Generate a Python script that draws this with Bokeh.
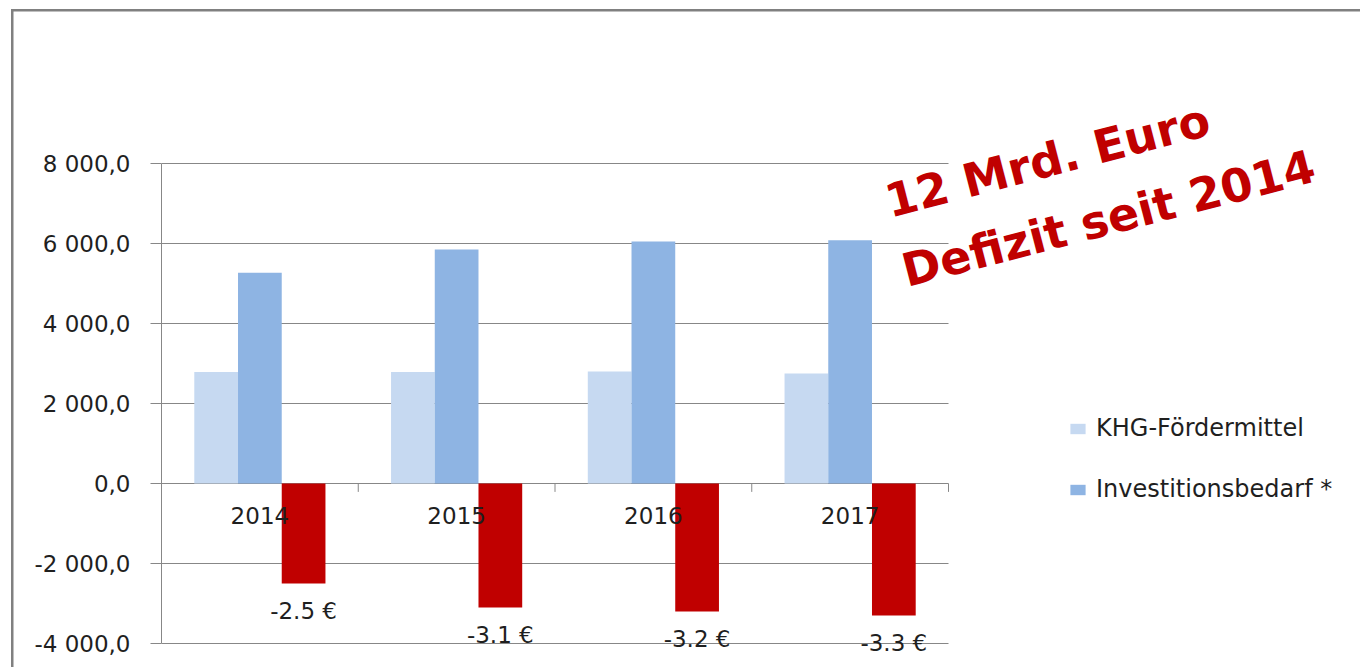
from bokeh.plotting import figure
from bokeh.models import (ColumnDataSource, Range1d, FixedTicker, CustomJSTickFormatter,
                          Legend, LegendItem, Label)
from bokeh.core.properties import value
from bokeh.embed import file_html
from bokeh.resources import INLINE

# Krankenhausinvestitionen (Mio. Euro)
jahre = ["2014", "2015", "2016", "2017"]
khg_foerdermittel = [2790, 2790, 2800, 2750]
investitionsbedarf = [5270, 5850, 6050, 6080]
# Jährliche Investitionslücke (Mrd. Euro)
defizit_mrd = [-2.5, -3.1, -3.2, -3.3]
y_ticks = [-4000, -2000, 0, 2000, 4000, 6000, 8000]
hinweis = ["12 Mrd. Euro", "Defizit seit 2014"]

FONT = "DejaVu Sans"
TEXT = "#1f1f1f"
GRID = "#878787"

n = len(jahre)
w = 1 / 4.5                      # bar width, gap width 150 %
pos = [i + 0.5 for i in range(n)]

src = ColumnDataSource(dict(
    jahr=jahre,
    x_khg=[x - w for x in pos],
    x_bed=pos,
    x_def=[x + w for x in pos],
    x_grenze=[x + 0.5 for x in pos],
    khg=khg_foerdermittel,
    bedarf=investitionsbedarf,
    defizit=[v * 1000 for v in defizit_mrd],
    label=[f"{v:.1f} €" for v in defizit_mrd],
    x=pos,
))

# the data frame spans the right-hand side too, so the legend and the note fit in it
W, H = 1360, 667
left, plot_right, plot_top, plot_bottom = 161, 948, 163, 643
px_per_unit_y = (plot_bottom - plot_top) / (y_ticks[-1] - y_ticks[0])
px_per_cat = (plot_right - left) / n
y_range = Range1d(y_ticks[0] - (H - plot_bottom) / px_per_unit_y,
                  y_ticks[-1] + plot_top / px_per_unit_y)
x_range = Range1d(0, (W - left) / px_per_cat)

p = figure(x_range=x_range, y_range=y_range, width=W, height=H,
           output_backend="svg", toolbar_location=None, x_axis_location=None,
           min_border_left=left, min_border_right=0, min_border_top=0, min_border_bottom=0)
p.outline_line_color = None
p.background_fill_color = None
p.border_fill_color = None
# grey chart-area border along the left and top edge
p.styles = {
    "background-color": "white",
    "background-image": "linear-gradient(#808080, #808080), linear-gradient(#808080, #808080)",
    "background-size": "2.5px 100%, 100% 2.5px",
    "background-position": "11px 9px, 11px 9px",
    "background-repeat": "no-repeat",
}

# y axis with German number format
yax = p.yaxis[0]
yax.ticker = FixedTicker(ticks=y_ticks)
yax.bounds = (y_ticks[0], y_ticks[-1])
yax.formatter = CustomJSTickFormatter(code="""
    const s = Math.abs(tick).toFixed(0).replace(/\\B(?=(\\d{3})+(?!\\d))/g, " ");
    return (tick < 0 ? "-" : "") + s + ",0";
""")
yax.axis_line_color = GRID
yax.major_tick_line_color = GRID
yax.major_tick_out = 11
yax.major_tick_in = 0
yax.minor_tick_line_color = None
yax.major_label_standoff = 20
yax.major_label_text_font = FONT
yax.major_label_text_font_size = "23px"
yax.major_label_text_color = TEXT
p.ygrid.ticker = FixedTicker(ticks=y_ticks)
p.ygrid.bounds = (y_ticks[0], y_ticks[-1])
p.ygrid.cross_bounds = (0, n)
p.ygrid.grid_line_color = GRID
p.xgrid.grid_line_color = None

r_khg = p.vbar(x="x_khg", top="khg", width=w, source=src,
               fill_color="#C6D9F1", line_color=None)
r_bed = p.vbar(x="x_bed", top="bedarf", width=w, source=src,
               fill_color="#8EB4E3", line_color=None)
p.vbar(x="x_def", top=0, bottom="defizit", width=w, source=src,
       fill_color="#C00000", line_color=None)

# category tick marks on the zero line
p.segment(x0="x_grenze", y0=0, x1="x_grenze", y1=-210,
          source=src, line_color=GRID, line_width=1)

# year labels below the zero line
p.text(x="x", y=0, text="jahr", source=src, y_offset=32,
       text_align="center", text_baseline="middle",
       text_font=value(FONT), text_font_size="23px", text_color=TEXT)

# deficit labels under the red bars
p.text(x="x_def", y="defizit", text="label", source=src,
       y_offset=27, text_align="center", text_baseline="middle",
       text_font=value(FONT), text_font_size="23px", text_color=TEXT)

legend = Legend(items=[LegendItem(label="KHG-Fördermittel", renderers=[r_khg]),
                       LegendItem(label="Investitionsbedarf *", renderers=[r_bed])],
                location=(1068 - left, H - 504), padding=0, margin=0,
                border_line_color=None, background_fill_alpha=0,
                glyph_width=19, glyph_height=13, label_height=30, spacing=31,
                label_standoff=9, label_text_font=FONT,
                label_text_font_size="24px", label_text_color=TEXT)
p.add_layout(legend)

for txt, (cx, cy) in zip(hinweis, [(1047, 160), (1108, 218)]):
    p.add_layout(Label(x=cx - left, y=H - cy, x_units="screen", y_units="screen", text=txt,
                       angle=14.5, angle_units="deg", text_align="center",
                       text_baseline="middle", text_font=FONT, text_font_style="bold",
                       text_font_size="46px", text_color="#C00000"))

open("out.html", "w").write(file_html(p, INLINE))
